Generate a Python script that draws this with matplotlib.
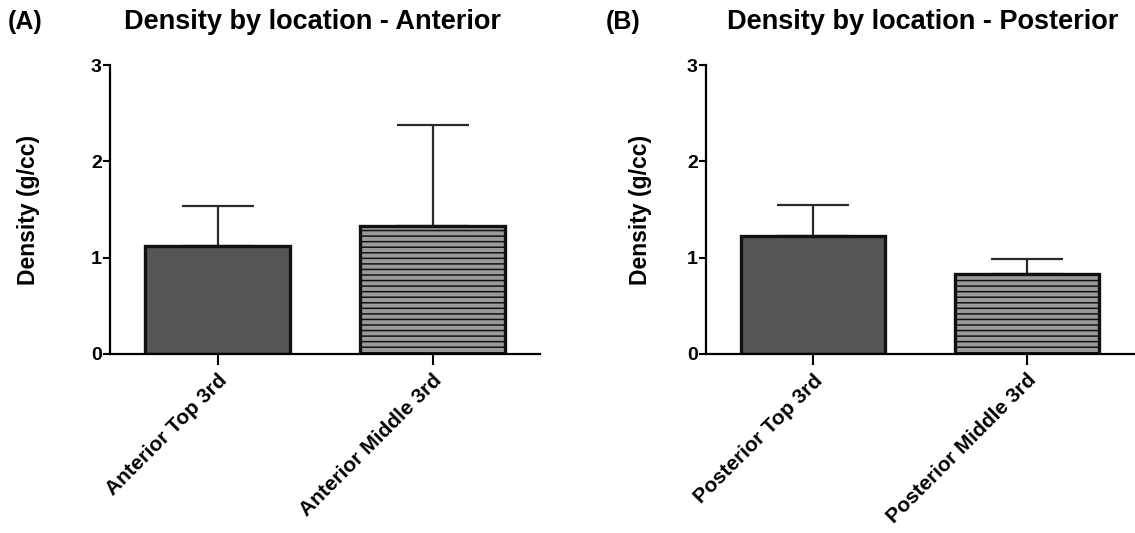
import matplotlib
matplotlib.use("Agg")
import matplotlib.pyplot as plt

plt.rcParams['font.family'] = ['Liberation Sans', 'DejaVu Sans']
plt.rcParams['font.weight'] = 'bold'
plt.rcParams['hatch.linewidth'] = 1.1
plt.rcParams['hatch.color'] = '#222222'

# data
ant_labels = ['Anterior Top 3rd', 'Anterior Middle 3rd']
ant_means = [1.12, 1.33]
ant_sd = [0.42, 1.05]

post_labels = ['Posterior Top 3rd', 'Posterior Middle 3rd']
post_means = [1.23, 0.83]
post_sd = [0.32, 0.16]

fig = plt.figure(figsize=(11.35, 5.33), dpi=100)
axA = fig.add_axes([110/1135, 1-354/533, 430/1135, 289/533])
axB = fig.add_axes([706/1135, 1-354/533, 428/1135, 289/533])


def panel(ax, labels, means, sd, labx):
    x = [0, 1]
    ax.errorbar(x, means, yerr=[[0, 0], sd], fmt='none', ecolor='#2a2a2a',
                elinewidth=1.6, capsize=26, capthick=1.6, zorder=1)
    ax.bar(x[0], means[0], width=0.67, color='#555555', edgecolor='#111111',
           linewidth=2.4, zorder=2)
    ax.bar(x[1], means[1], width=0.67, color='#9a9a9a', edgecolor='#111111',
           linewidth=2.4, hatch='---', zorder=2)
    ax.set_xlim(-0.5, 1.5)
    ax.set_ylim(0, 3)
    ax.set_yticks([0, 1, 2, 3])
    ax.set_xticks(x)
    ax.set_xticklabels(labels, rotation=45, ha='right', rotation_mode='anchor',
                       fontsize=15, fontweight='bold')
    ax.tick_params(axis='y', labelsize=14, width=1.5, length=5, pad=1)
    ax.tick_params(axis='x', width=1.5, length=8, pad=4)
    for s in ['top', 'right']:
        ax.spines[s].set_visible(False)
    for s in ['left', 'bottom']:
        ax.spines[s].set_linewidth(1.6)
    ax.set_ylabel('Density (g/cc)', fontsize=16.5, fontweight='bold')
    ax.yaxis.set_label_coords(labx, 0.5)


panel(axA, ant_labels, ant_means, ant_sd, -0.163)
panel(axB, post_labels, post_means, post_sd, -0.127)

fig.text(8/1135, 1-22/533, '(A)', fontsize=18, fontweight='bold', va='center')
fig.text(312/1135, 1-22/533, 'Density by location - Anterior', fontsize=19.5,
         fontweight='bold', va='center', ha='center')
fig.text(606/1135, 1-22/533, '(B)', fontsize=18, fontweight='bold', va='center')
fig.text(923/1135, 1-22/533, 'Density by location - Posterior', fontsize=19.5,
         fontweight='bold', va='center', ha='center')

fig.savefig('out.png', dpi=100)
